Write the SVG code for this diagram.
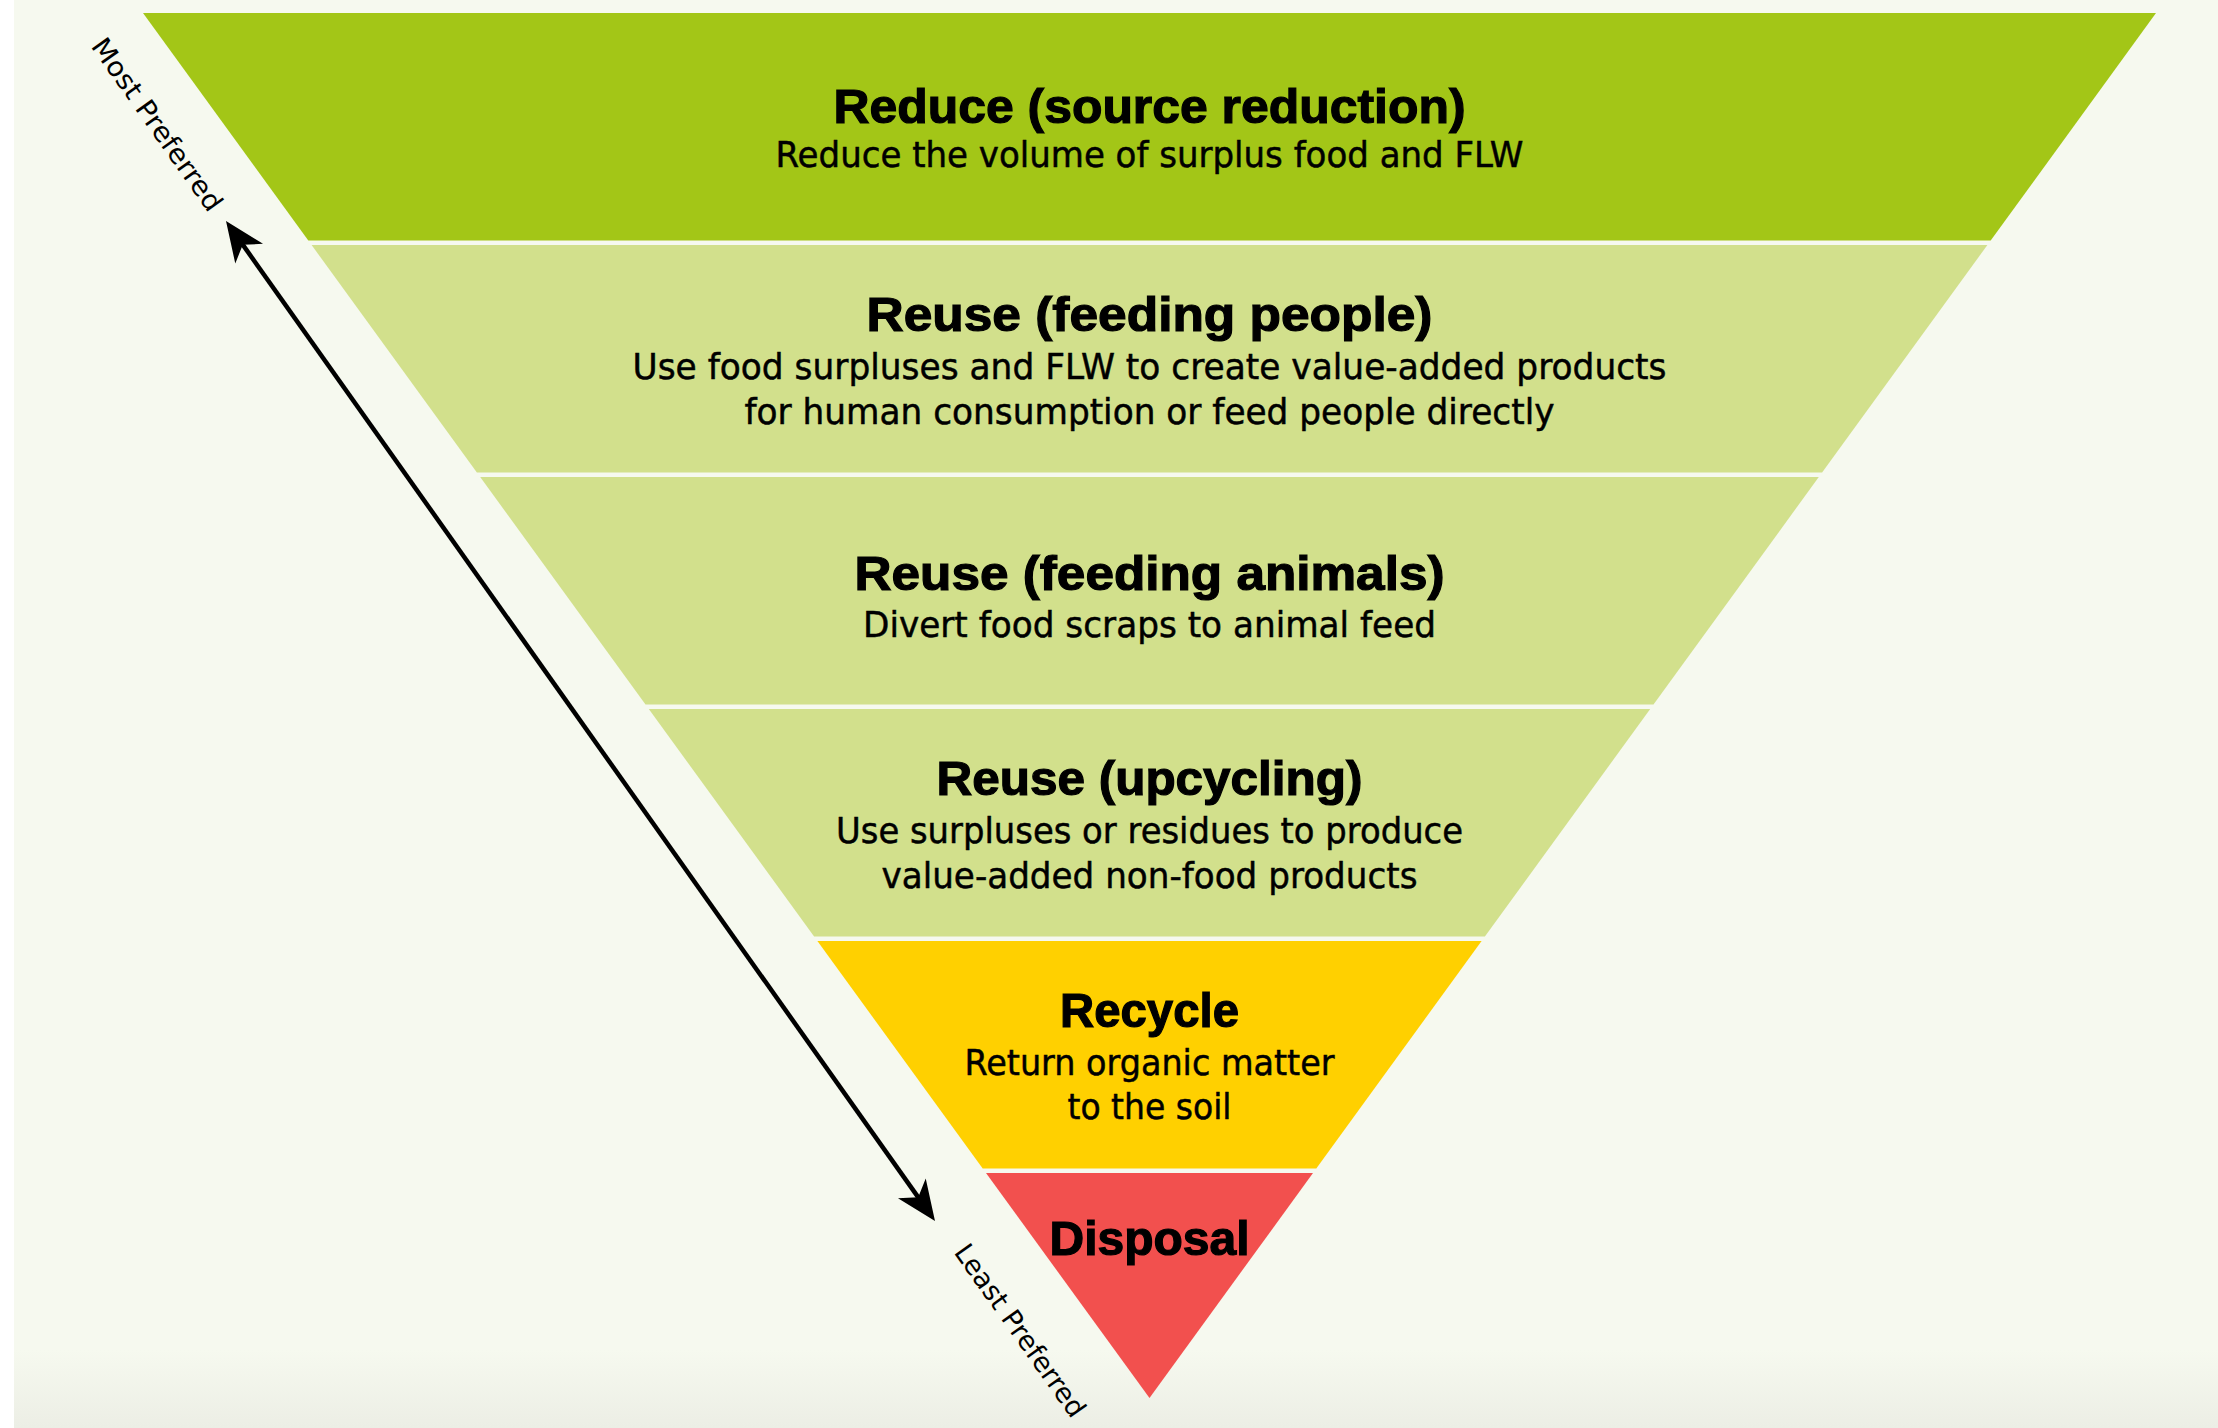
<svg xmlns="http://www.w3.org/2000/svg" width="2218" height="1428" viewBox="0 0 2218 1428">
  <style>
    .title { font-family: "Liberation Sans", Arial, sans-serif; font-weight: 700; font-size: 49px; fill: #000; stroke: #000; stroke-width: 1.2; text-anchor: middle; }
    .sub { font-family: "DejaVu Sans", "Liberation Sans", sans-serif; font-size: 36px; fill: #000; stroke: #000; stroke-width: 0.5; text-anchor: middle; }
    .axis-label { font-family: "DejaVu Sans", "Liberation Sans", sans-serif; font-size: 27px; fill: #000; text-anchor: middle; }
    .lvl-reduce { fill: #a3c617; }
    .lvl-reuse { fill: #d2e08c; }
    .lvl-recycle { fill: #ffd000; }
    .lvl-disposal { fill: #f2504e; }
    .axis { stroke: #000; stroke-width: 4.5; fill: none; }
  </style>
  <defs>
    <linearGradient id="floor" x1="0" y1="0" x2="0" y2="1">
      <stop offset="0" stop-color="#f6f9ef"/>
      <stop offset="1" stop-color="#eceee5"/>
    </linearGradient>
    <marker id="head" markerUnits="userSpaceOnUse" viewBox="-15 -20 50 40" refX="0" refY="0" markerWidth="50" markerHeight="40" orient="auto-start-reverse">
      <path d="M28,0 L-12,-17 L-1,0 L-12,17 Z" fill="#000"/>
    </marker>
  </defs>

  <!-- page -->
  <rect x="0" y="0" width="2218" height="1428" fill="#f6f9ef"/>
  <rect x="14" y="1350" width="2204" height="78" fill="url(#floor)"/>
  <rect x="0" y="0" width="14" height="1428" fill="#ffffff"/>

  <!-- hierarchy levels, top to bottom -->
  <g id="reduce">
    <polygon class="lvl-reduce" points="143,13 2156,13 1990.7,240.5 308.3,240.5"/>
    <text class="title" x="1149.5" y="123" textLength="632" lengthAdjust="spacingAndGlyphs">Reduce (source reduction)</text>
    <text class="sub" x="1149.5" y="167" textLength="748" lengthAdjust="spacingAndGlyphs">Reduce the volume of surplus food and FLW</text>
  </g>

  <g id="reuse-people">
    <polygon class="lvl-reuse" points="311.6,245 1987.4,245 1822.1,472.5 476.9,472.5"/>
    <text class="title" x="1149.5" y="331" textLength="566" lengthAdjust="spacingAndGlyphs">Reuse (feeding people)</text>
    <text class="sub" x="1149.5" y="379" textLength="1034" lengthAdjust="spacingAndGlyphs">Use food surpluses and FLW to create value-added products</text>
    <text class="sub" x="1149.5" y="424" textLength="810" lengthAdjust="spacingAndGlyphs">for human consumption or feed people directly</text>
  </g>

  <g id="reuse-animals">
    <polygon class="lvl-reuse" points="480.2,477 1818.8,477 1653.5,704.5 645.5,704.5"/>
    <text class="title" x="1149.5" y="590" textLength="590" lengthAdjust="spacingAndGlyphs">Reuse (feeding animals)</text>
    <text class="sub" x="1149.5" y="637" textLength="573" lengthAdjust="spacingAndGlyphs">Divert food scraps to animal feed</text>
  </g>

  <g id="reuse-upcycling">
    <polygon class="lvl-reuse" points="648.8,709 1650.2,709 1484.9,936.5 814.1,936.5"/>
    <text class="title" x="1149.5" y="795" textLength="426" lengthAdjust="spacingAndGlyphs">Reuse (upcycling)</text>
    <text class="sub" x="1149.5" y="843" textLength="627" lengthAdjust="spacingAndGlyphs">Use surpluses or residues to produce</text>
    <text class="sub" x="1149.5" y="888" textLength="536" lengthAdjust="spacingAndGlyphs">value-added non-food products</text>
  </g>

  <g id="recycle">
    <polygon class="lvl-recycle" points="817.4,941 1481.6,941 1316.3,1168.5 982.7,1168.5"/>
    <text class="title" x="1149.5" y="1027" textLength="179" lengthAdjust="spacingAndGlyphs">Recycle</text>
    <text class="sub" x="1149.5" y="1075" textLength="370" lengthAdjust="spacingAndGlyphs">Return organic matter</text>
    <text class="sub" x="1149.5" y="1119" textLength="164" lengthAdjust="spacingAndGlyphs">to the soil</text>
  </g>

  <g id="disposal">
    <polygon class="lvl-disposal" points="986,1173 1313,1173 1149.5,1398"/>
    <text class="title" x="1149.5" y="1255" textLength="200" lengthAdjust="spacingAndGlyphs">Disposal</text>
  </g>

  <!-- preference axis -->
  <g id="connectors">
    <line class="axis" x1="242.2" y1="243.9" x2="918.8" y2="1198.1" marker-start="url(#head)" marker-end="url(#head)"/>
  </g>

  <g id="axis-labels">
    <text class="axis-label" transform="translate(149.6,129.9) rotate(54.66)" textLength="205" lengthAdjust="spacingAndGlyphs">Most Preferred</text>
    <text class="axis-label" transform="translate(1012.6,1335.9) rotate(54.66)" textLength="205" lengthAdjust="spacingAndGlyphs">Least Preferred</text>
  </g>
</svg>
